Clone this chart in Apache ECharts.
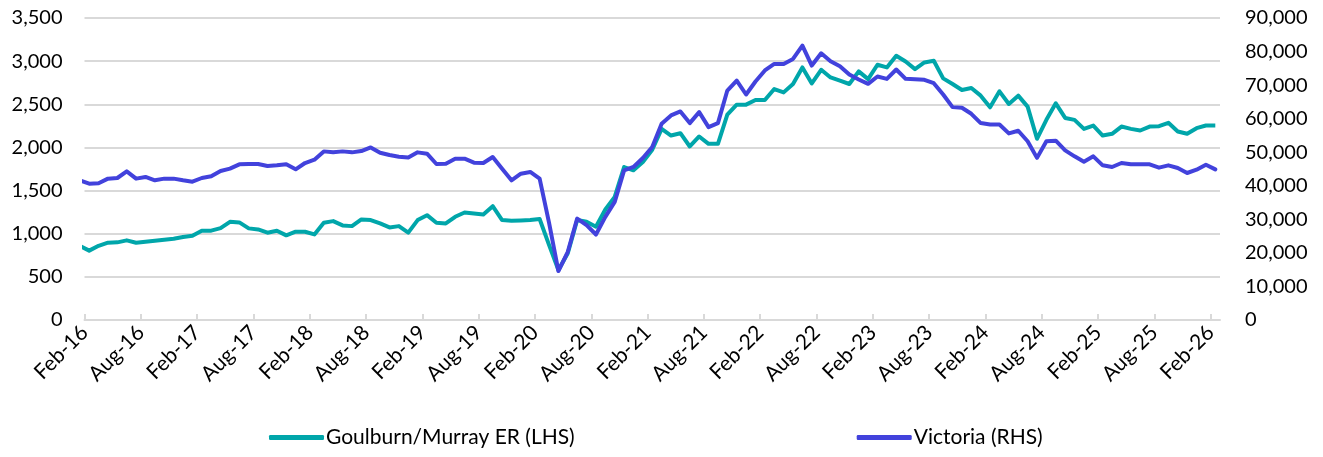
<!DOCTYPE html>
<html style="height: 100%">
<head>
  <meta charset="utf-8">
  <title>Goulburn/Murray ER vs Victoria</title>
</head>
<body style="height: 100%; margin: 0; background: #fff">
<div id="container" style="width: 1323px; height: 457px"></div>
<script src="https://cdn.jsdelivr.net/npm/echarts@6/dist/echarts.min.js"></script>
<script>
  // monthly series, Jan-16 .. Feb-26 (Jan-16 sits just left of the axis and is clipped)
  var gmER = [
    860, 804, 860, 896, 900, 923, 896, 908, 919, 931, 942, 962, 977,
    1035, 1035, 1065, 1138, 1131, 1062, 1050, 1012, 1035, 981, 1023, 1023,
    992, 1127, 1146, 1096, 1088, 1165, 1158, 1119, 1073, 1088, 1012, 1158,
    1215, 1127, 1119, 1196, 1246, 1235, 1223, 1319, 1158, 1150, 1154, 1158,
    1170, 870, 580, 773, 1158, 1138, 1081, 1281, 1427, 1773, 1735, 1831,
    1973, 2215, 2138, 2165, 2011, 2127, 2042, 2042, 2380, 2496, 2496, 2550,
    2550, 2677, 2638, 2735, 2927, 2742, 2900, 2811, 2773, 2735, 2881, 2792,
    2958, 2927, 3062, 2996, 2908, 2985, 3004, 2800, 2735, 2665, 2688, 2600,
    2465, 2650, 2504, 2600, 2473, 2100, 2320, 2511, 2342, 2319, 2215, 2254,
    2138, 2158, 2242, 2215, 2196, 2242, 2246, 2285, 2185, 2158, 2223, 2254,
    2254
  ];
  var victoria = [
    41600, 40640, 40740, 42130, 42320, 44300, 42130, 42620, 41630, 42130, 42130, 41630, 41230,
    42320, 42820, 44400, 45100, 46390, 46490, 46490, 45890, 46090, 46390, 44900, 46780,
    47780, 50250, 49960, 50250, 49960, 50350, 51440, 49860, 49160, 48670, 48420, 49960,
    49560, 46490, 46590, 48070, 48070, 46880, 46780, 48570, 45100, 41630, 43610, 44110,
    42130, 29000, 14600, 20320, 30230, 28250, 25470, 30730, 35190, 44600, 45600, 48270,
    51540, 58480, 60960, 62150, 58680, 61950, 57490, 58680, 68390, 71370, 67200, 71070,
    74360, 76320, 76320, 77810, 81770, 75830, 79490, 77110, 75630, 73150, 71660, 70380,
    72560, 71860, 74640, 71860, 71760, 71570, 70570, 67200, 63440, 63240, 61450, 58680,
    58280, 58280, 55610, 56400, 53270, 48320, 53300, 53430, 50550, 48770, 47180, 48770,
    46090, 45600, 46790, 46390, 46390, 46390, 45400, 46090, 45300, 43810, 44800, 46290,
    44900
  ];
  var tickLabels = ['Feb-16', 'Aug-16', 'Feb-17', 'Aug-17', 'Feb-18', 'Aug-18', 'Feb-19',
    'Aug-19', 'Feb-20', 'Aug-20', 'Feb-21', 'Aug-21', 'Feb-22', 'Aug-22', 'Feb-23',
    'Aug-23', 'Feb-24', 'Aug-24', 'Feb-25', 'Aug-25', 'Feb-26'];
  var seriesNames = ['Goulburn/Murray ER (LHS)', 'Victoria (RHS)'];

  // x = months since start of Feb-16; each observation sits mid-month
  function toPoints(arr) {
    return arr.map(function (v, k) { return [k - 1 + 0.5, v]; });
  }

  var fontFamily = 'Lato, "Open Sans", sans-serif';
  var gridColor = '#d9d9d9';

  var myChart = echarts.init(document.getElementById('container'));
  var option = {
    animation: false,
    textStyle: { fontFamily: fontFamily, color: '#000' },
    grid: { left: 84.5, right: 103, top: 18, bottom: 137, containLabel: false },
    legend: {
      bottom: 4,
      left: 264,
      itemGap: 282,
      itemWidth: 55,
      itemHeight: 5,
      icon: 'roundRect',
      textStyle: { fontFamily: fontFamily, fontSize: 21, color: '#000', padding: [0, 0, 0, -3] },
      data: seriesNames
    },
    xAxis: {
      type: 'value',
      min: 0,
      max: 121,
      interval: 6,
      axisLine: { show: true, lineStyle: { color: gridColor, width: 2 } },
      axisTick: { show: true, inside: true, length: 6, lineStyle: { color: gridColor, width: 2 } },
      splitLine: { show: false },
      axisLabel: {
        rotate: 45,
        margin: 9,
        fontSize: 21,
        color: '#000',
        showMaxLabel: false,
        formatter: function (v) {
          return v % 6 === 0 ? tickLabels[v / 6] : '';
        }
      }
    },
    yAxis: [
      {
        type: 'value',
        min: 0,
        max: 3500,
        interval: 500,
        axisLine: { show: false },
        axisTick: { show: false },
        splitLine: { lineStyle: { color: gridColor, width: 2 } },
        axisLabel: {
          margin: 22,
          fontSize: 20,
          color: '#000',
          formatter: function (v) { return v.toLocaleString('en-US'); }
        }
      },
      {
        type: 'value',
        min: 0,
        max: 90000,
        interval: 10000,
        axisLine: { show: false },
        axisTick: { show: false },
        splitLine: { show: false },
        axisLabel: {
          margin: 25,
          fontSize: 20,
          color: '#000',
          formatter: function (v) { return v.toLocaleString('en-US'); }
        }
      }
    ],
    series: [
      {
        name: seriesNames[0],
        type: 'line',
        yAxisIndex: 0,
        data: toPoints(gmER),
        showSymbol: false,
        clip: true,
        lineStyle: { color: '#00A6AA', width: 4, join: 'round', cap: 'butt' },
        itemStyle: { color: '#00A6AA' }
      },
      {
        name: seriesNames[1],
        type: 'line',
        yAxisIndex: 1,
        data: toPoints(victoria),
        showSymbol: false,
        clip: true,
        lineStyle: { color: '#4242DC', width: 4, join: 'round', cap: 'round' },
        itemStyle: { color: '#4242DC' }
      }
    ]
  };
  myChart.setOption(option);
</script>
</body>
</html>
